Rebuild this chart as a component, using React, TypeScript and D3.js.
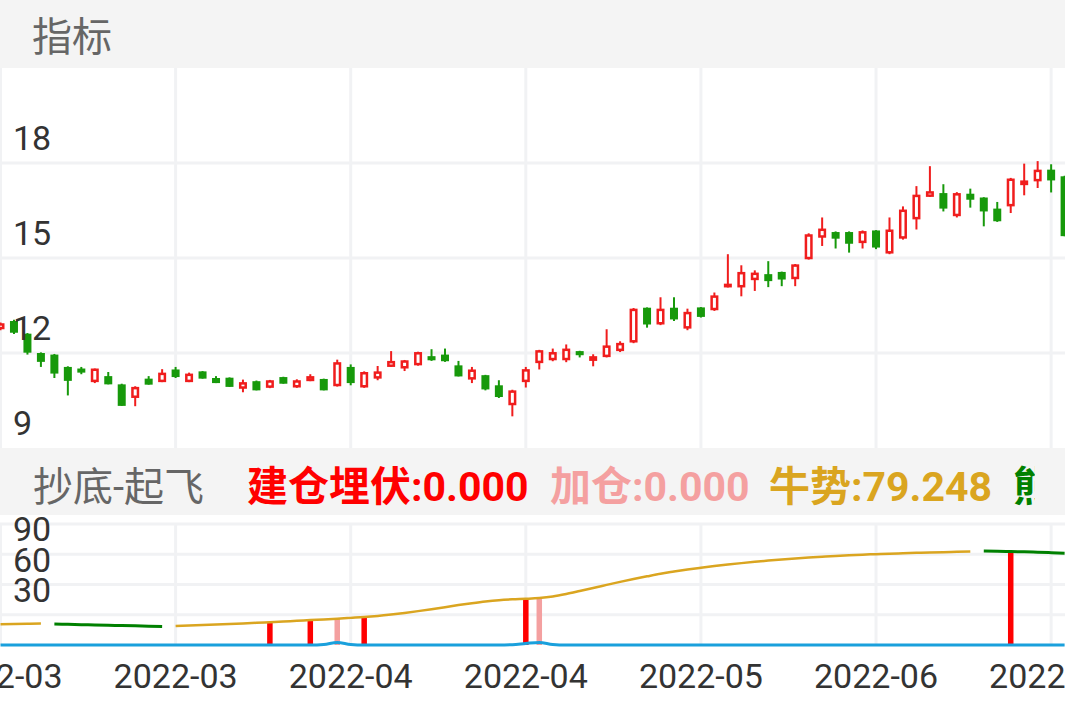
import React from "react";
import * as d3 from "d3";

const WIDTH = 1065;
const HEIGHT = 708;
const FONT = "Roboto, 'Noto Sans CJK SC', sans-serif";

// candles, one per trading day
const opens = [
  12.75, 13.01, 12.61, 12.0, 11.95, 11.56, 11.51, 11.08, 11.27, 11.01,
  10.58, 11.19, 11.08, 11.48, 11.08, 11.42, 11.21, 11.22, 10.87, 11.11,
  10.9, 11.24, 10.91, 11.11, 11.18, 10.95, 11.56, 10.91, 11.19, 11.56,
  11.51, 11.61, 11.9, 11.95, 11.61, 11.16, 11.3, 10.98, 10.35, 11.08,
  11.68, 11.77, 11.77, 12.06, 11.75, 11.87, 12.06, 12.33, 13.43, 12.9,
  13.43, 12.77, 13.44, 13.35, 14.07, 14.07, 14.3, 14.49, 14.56, 14.33,
  14.96, 15.64, 15.82, 15.82, 15.47, 15.87, 15.14, 15.61, 16.22, 16.93,
  17.05, 16.32, 17.03, 16.91, 16.56, 16.63, 17.3, 17.42, 17.79, 17.58,
];
const highs = [
  12.96, 13.05, 12.63, 12.02, 11.97, 11.58, 11.56, 11.51, 11.4, 11.03,
  10.95, 11.27, 11.49, 11.56, 11.38, 11.43, 11.27, 11.23, 11.16, 11.13,
  11.15, 11.25, 11.17, 11.33, 11.19, 11.79, 11.64, 11.42, 11.59, 12.06,
  11.78, 12.04, 12.12, 12.14, 11.75, 11.56, 11.31, 11.14, 10.84, 11.56,
  12.1, 12.14, 12.27, 12.07, 11.96, 12.75, 12.37, 13.42, 13.44, 13.76,
  13.76, 13.4, 13.45, 13.91, 15.12, 14.77, 14.61, 14.9, 14.57, 14.81,
  15.78, 16.28, 15.84, 15.84, 15.87, 15.88, 16.28, 16.63, 17.27, 17.9,
  17.33, 17.08, 17.19, 16.92, 16.77, 17.53, 17.98, 18.06, 17.96, 17.6,
];
const lows = [
  12.72, 12.6, 11.95, 11.56, 11.21, 10.66, 11.33, 11.05, 11.01, 10.33,
  10.32, 11.0, 11.08, 11.21, 11.08, 11.19, 11.05, 10.93, 10.76, 10.82,
  10.89, 11.03, 10.9, 11.11, 10.82, 10.94, 10.98, 10.9, 11.14, 11.56,
  11.43, 11.6, 11.75, 11.72, 11.26, 11.05, 10.82, 10.58, 10.0, 10.91,
  11.48, 11.74, 11.71, 11.86, 11.58, 11.86, 12.03, 12.31, 12.8, 12.88,
  13.01, 12.72, 13.12, 13.33, 14.07, 13.79, 13.96, 14.08, 14.11, 14.11,
  14.95, 15.38, 15.3, 15.17, 15.3, 15.28, 15.12, 15.58, 15.9, 16.93,
  16.47, 16.28, 16.59, 16.0, 16.14, 16.42, 16.98, 17.21, 17.07, 15.69,
];
const closes = [
  12.94, 12.64, 12.01, 11.72, 11.35, 11.12, 11.38, 11.51, 11.01, 10.33,
  10.93, 11.0, 11.38, 11.24, 11.35, 11.19, 11.05, 10.93, 11.08, 10.82,
  11.14, 11.03, 11.14, 11.27, 10.82, 11.71, 11.05, 11.4, 11.42, 11.75,
  11.77, 12.03, 11.77, 11.74, 11.26, 11.48, 10.85, 10.61, 10.82, 11.49,
  12.09, 12.03, 12.14, 11.93, 11.9, 12.24, 12.32, 13.4, 12.9, 13.4,
  13.06, 13.3, 13.14, 13.82, 14.19, 14.56, 14.54, 14.27, 14.32, 14.8,
  15.75, 15.93, 15.61, 15.45, 15.85, 15.33, 15.9, 16.53, 17.0, 17.11,
  16.56, 17.05, 16.84, 16.47, 16.16, 17.51, 17.45, 17.79, 17.45, 15.69,
];

// x axis
const tickIndex = [0, 13, 26, 39, 52, 65, 78];
const tickLabels = ["2022-03", "2022-03", "2022-04", "2022-04", "2022-05", "2022-06", "2022-06"];
const priceTicks = [18, 15, 12, 9];
const lowerTicks = [90, 60, 30];
const lowerGrid = [30, 60, 90, 120];

// 抄底-起飞 indicator
const trend = [
  20.6, 20.8, 21.0, 21.2, 20.8, 20.5, 20.2, 19.9, 19.6, 19.3,
  19.0, 18.7, 18.4, 18.9, 19.4, 19.9, 20.4, 20.9, 21.4, 22.0,
  22.6, 23.3, 24.0, 24.7, 25.4, 26.1, 26.9, 27.7, 28.8, 30.2,
  31.8, 33.6, 35.5, 37.5, 39.6, 41.5, 43.2, 44.5, 45.3, 45.8,
  46.5, 48.0, 50.5, 53.5, 56.6, 59.6, 62.6, 65.4, 68.1, 70.7,
  72.8, 74.8, 76.6, 78.3, 79.8, 81.2, 82.5, 83.7, 84.8, 85.8,
  86.7, 87.5, 88.3, 89.0, 89.6, 90.1, 90.6, 91.0, 91.4, 91.8,
  92.1, 92.4, 92.7, 93.2, 93.0, 92.7, 92.4, 92.0, 91.6, 91.1,
];
// index ranges where the trend is bearish (drawn green)
const bearRanges = [[4, 12], [73, 79]];
const jianCang = [
  { i: 20, v: 23.0 },
  { i: 23, v: 24.7 },
  { i: 27, v: 27.5 },
  { i: 39, v: 45.0 },
  { i: 75, v: 92.0 },
];
const jiaCang = [
  { i: 25, v: 26.0 },
  { i: 40, v: 46.4 },
];
const cyan = [
  0, 0, 0, 0, 0, 0, 0, 0, 0, 0,
  0, 0, 0, 0, 0, 0, 0, 0, 0, 0,
  0, 0, 0, 0, 0.5, 2.5, 0.5, 0, 0, 0,
  0, 0, 0, 0, 0, 0, 0, 0, 0.3, 1.5,
  2.5, 0.5, 0, 0, 0, 0, 0, 0, 0, 0,
  0, 0, 0, 0, 0, 0, 0, 0, 0, 0,
  0, 0, 0, 0, 0, 0, 0, 0, 0, 0,
  0, 0, 0, 0, 0, 0, 0, 0, 0, 0,
];

const RED = "#f01d1d";
const GREEN = "#17990b";
const GRID = "#f1f2f4";

export default function App() {
  const x = d3.scaleLinear().domain([0, 79]).range([0.5, 1064.6]);
  const y = d3.scaleLinear().domain([9, 21]).range([448, 68]);
  const yl = d3.scaleLinear().domain([0, 120]).range([645, 524]);

  const isBear = (i: number) => bearRanges.some(([a, b]) => i >= a && i <= b);
  const lineGen = (pick: (i: number) => boolean) =>
    d3
      .line<number>()
      .defined((_, i) => pick(i))
      .x((_, i) => x(i))
      .y((d) => yl(d))
      .curve(d3.curveMonotoneX);
  const bullPath = lineGen((i) => !isBear(i))(trend) || "";
  const bearPath = lineGen((i) => isBear(i))(trend) || "";
  const cyanPath =
    d3
      .line<number>()
      .x((_, i) => x(i))
      .y((d) => yl(d))
      .curve(d3.curveMonotoneX)(cyan) || "";

  const bodyW = 8;
  const sw = 2.5;

  return (
    <svg
      width={WIDTH}
      height={HEIGHT}
      style={{ position: "absolute", left: 0, top: 0, background: "#fff" }}
      fontFamily={FONT}
    >
      <defs>
        <clipPath id="mainClip">
          <rect x={0} y={68} width={WIDTH} height={380} />
        </clipPath>
        <clipPath id="legendClip">
          <rect x={0} y={448} width={1035} height={67} />
        </clipPath>
      </defs>

      {/* header bands */}
      <rect x={0} y={0} width={WIDTH} height={68} fill="#f4f4f4" />
      <text x={32} y={51} fontSize={40} fill="#666">指标</text>
      <rect x={0} y={448} width={WIDTH} height={67} fill="#f4f4f4" />

      {/* main grid */}
      {priceTicks.slice(0, 3).map((v) => (
        <line key={"h" + v} x1={0} x2={WIDTH} y1={y(v)} y2={y(v)} stroke={GRID} strokeWidth={3} />
      ))}
      {tickIndex.map((t) => (
        <line key={"v" + t} x1={x(t)} x2={x(t)} y1={68} y2={448} stroke={GRID} strokeWidth={3} />
      ))}

      {/* candles */}
      <g clipPath="url(#mainClip)">
        {opens.map((o, i) => {
          const c = closes[i];
          const cx = x(i);
          const up = c >= o;
          const top = y(Math.max(o, c));
          const bot = y(Math.min(o, c));
          const h = bot - top;
          const col = up ? RED : GREEN;
          return (
            <g key={i}>
              <line x1={cx} x2={cx} y1={y(highs[i])} y2={y(lows[i])} stroke={col} strokeWidth={2} />
              {up && h > sw + 1 ? (
                <rect
                  x={cx - bodyW / 2 + sw / 2}
                  y={top + sw / 2}
                  width={bodyW - sw}
                  height={h - sw}
                  fill="#fff"
                  stroke={col}
                  strokeWidth={sw}
                />
              ) : (
                <rect x={cx - bodyW / 2} y={top} width={bodyW} height={Math.max(h, 2)} fill={col} />
              )}
            </g>
          );
        })}
      </g>

      {/* price labels */}
      {priceTicks.map((v) => (
        <text key={"pl" + v} x={13} y={y(v) - 13} fontSize={34} fill="#333">{v}</text>
      ))}

      {/* lower legend */}
      <g clipPath="url(#legendClip)" fontSize={41}>
        <text x={33} y={501} fontSize={40} fill="#666">抄底-起飞</text>
        <text x={247} y={501} fill="#ff0000" fontWeight="bold">建仓埋伏:0.000</text>
        <text x={550} y={501} fill="#f4a0a0" fontWeight="bold">加仓:0.000</text>
        <text x={769} y={501} fill="#daa520" fontWeight="bold">牛势:79.248</text>
        <text x={1013} y={501} fill="#008000" fontWeight="bold">熊势:0.000</text>
      </g>

      {/* lower grid */}
      {lowerGrid.map((v) => (
        <line key={"lh" + v} x1={0} x2={WIDTH} y1={yl(v)} y2={yl(v)} stroke={GRID} strokeWidth={3} />
      ))}
      {tickIndex.map((t) => (
        <line key={"lv" + t} x1={x(t)} x2={x(t)} y1={524} y2={645} stroke={GRID} strokeWidth={3} />
      ))}

      {/* signal bars */}
      {jianCang.map((d) => (
        <rect key={"jc" + d.i} x={x(d.i) - 2.75} y={yl(d.v)} width={5.5} height={yl(0) - yl(d.v)} fill="#ff0000" />
      ))}
      {jiaCang.map((d) => (
        <rect key={"ja" + d.i} x={x(d.i) - 2.75} y={yl(d.v)} width={5.5} height={yl(0) - yl(d.v)} fill="#f4a0a0" />
      ))}

      <path d={bullPath} fill="none" stroke="#daa520" strokeWidth={2.5} />
      <path d={bearPath} fill="none" stroke="#008000" strokeWidth={3} />
      <path d={cyanPath} fill="none" stroke="#1aa0dc" strokeWidth={3} />

      {lowerTicks.map((v) => (
        <text key={"ll" + v} x={13} y={yl(v) - 13} fontSize={34} fill="#333">{v}</text>
      ))}

      {/* x axis labels */}
      {tickIndex.map((t, k) => (
        <text key={"xl" + t} x={x(t)} y={688} fontSize={34} fill="#333" textAnchor="middle">
          {tickLabels[k]}
        </text>
      ))}
    </svg>
  );
}
